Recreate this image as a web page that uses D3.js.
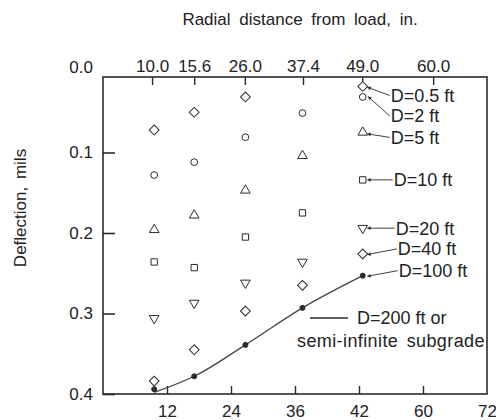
<!DOCTYPE html>
<html>
<head>
<meta charset="utf-8">
<script src="https://cdn.jsdelivr.net/npm/d3@7"></script>
<style>
  body { margin: 0; background: #fff; }
  svg text { font-family: "Liberation Sans", Arial, sans-serif; fill: #222; }
</style>
</head>
<body>
<div id="chart"></div>
<script>
// sensor offsets (in.), and the printed top labels
var sensorX = [9.6, 17.1, 26.7, 37.4, 48.7];
var topTickX = [9.2, 17.1, 26.6, 37.5, 48.6, 61.9];
var topTickLabels = ["10.0", "15.6", "26.0", "37.4", "49.0", "60.0"];
var bottomTickX = [12, 24, 36, 48, 60, 72];
var bottomTickLabels = ["12", "24", "36", "42", "60", "72"];
var yTicks = [0, 0.1, 0.2, 0.3, 0.4];

// deflection (mils) for each depth to bedrock D
var depthLabels = ["D=0.5 ft", "D=2 ft", "D=5 ft", "D=10 ft", "D=20 ft", "D=40 ft", "D=100 ft"];
var defl05 = [0.072, 0.050, 0.031, null, 0.018];
var defl2 = [0.128, 0.112, 0.081, 0.051, 0.031];
var defl5 = [0.196, 0.178, 0.147, 0.104, 0.075];
var defl10 = [0.236, 0.243, 0.205, 0.175, 0.134];
var defl20 = [0.306, 0.287, 0.262, 0.236, 0.194];
var defl40 = [0.384, 0.345, 0.297, 0.265, 0.226];
var defl100 = [0.394, 0.378, 0.339, 0.293, 0.253];
var defl200 = [0.398, 0.378, 0.339, 0.293, 0.253];

var width = 496, height = 420;
var frame = { left: 103, right: 487, top: 77, bottom: 394 };
var ink = "#2b2b2b";

var x = d3.scaleLinear().domain([0, 72]).range([frame.left, frame.right]);
var y = d3.scaleLinear().domain([0, 0.4]).range([72, frame.bottom]);

var svg = d3.select("#chart").append("svg")
  .attr("width", width)
  .attr("height", height);

svg.append("defs").append("marker")
  .attr("id", "arrow")
  .attr("viewBox", "0 0 10 10")
  .attr("refX", 1).attr("refY", 5)
  .attr("markerWidth", 5).attr("markerHeight", 5)
  .attr("orient", "auto")
  .append("path")
  .attr("d", "M1,1 L10,5 L1,9 z")
  .attr("fill", ink);

// frame
svg.append("rect")
  .attr("x", frame.left).attr("y", frame.top)
  .attr("width", frame.right - frame.left)
  .attr("height", frame.bottom - frame.top)
  .attr("fill", "none")
  .attr("stroke", ink)
  .attr("stroke-width", 1.6);

// top axis (sensor locations)
var topAxis = svg.append("g").attr("transform", "translate(0," + frame.top + ")")
  .call(d3.axisBottom(x).tickValues(topTickX).tickSize(8)
    .tickFormat(function(d, i) { return topTickLabels[i]; }));
topAxis.select(".domain").remove();
topAxis.selectAll(".tick line").attr("stroke", ink).attr("stroke-width", 1.4);
topAxis.selectAll(".tick text").attr("y", -5).attr("dy", 0)
  .style("font-size", "17px");

// bottom axis
var bottomAxis = svg.append("g").attr("transform", "translate(0," + frame.bottom + ")")
  .call(d3.axisTop(x).tickValues(bottomTickX).tickSize(8)
    .tickFormat(function(d, i) { return bottomTickLabels[i]; }));
bottomAxis.select(".domain").remove();
bottomAxis.selectAll(".tick line").attr("stroke", ink).attr("stroke-width", 1.4)
  .attr("display", function(d) { return d === 72 ? "none" : null; });
bottomAxis.selectAll(".tick text").attr("y", 23).attr("dy", 0)
  .style("font-size", "17px");

// left axis
var leftAxis = svg.append("g").attr("transform", "translate(" + frame.left + ",0)")
  .call(d3.axisRight(y).tickValues(yTicks).tickSize(12).tickFormat(d3.format(".1f")));
leftAxis.select(".domain").remove();
leftAxis.selectAll(".tick line").attr("stroke", ink).attr("stroke-width", 1.6)
  .attr("display", function(d) { return d === 0 ? "none" : null; });
leftAxis.selectAll(".tick text")
  .attr("x", -10)
  .attr("dy", function(d) { return d === 0 ? "0" : "0.3em"; })
  .attr("text-anchor", "end")
  .style("font-size", "17px");
svg.selectAll(".tick text").attr("fill", "#222");

// axis titles
svg.append("text")
  .attr("x", 300).attr("y", 25)
  .attr("text-anchor", "middle")
  .style("font-size", "17px")
  .style("word-spacing", "4px")
  .text("Radial distance from load, in.");

svg.append("text")
  .attr("transform", "translate(26,208) rotate(-90)")
  .attr("text-anchor", "middle")
  .style("font-size", "17px")
  .style("word-spacing", "3px")
  .text("Deflection, mils");

// D=200 ft curve
var line = d3.line()
  .x(function(d, i) { return x(sensorX[i]); })
  .y(function(d) { return y(d); })
  .curve(d3.curveMonotoneX);

svg.append("path")
  .attr("d", line(defl200))
  .attr("fill", "none")
  .attr("stroke", "#444")
  .attr("stroke-width", 1.3);

// symbols for each series
var seriesList = [
  { vals: defl05, type: d3.symbolSquare, size: 48, rot: 45, fill: "#fff" },
  { vals: defl2, type: d3.symbolCircle, size: 36, rot: 0, fill: "#fff" },
  { vals: defl5, type: d3.symbolTriangle, size: 40, rot: 0, fill: "#fff" },
  { vals: defl10, type: d3.symbolSquare, size: 40, rot: 0, fill: "#fff" },
  { vals: defl20, type: d3.symbolTriangle, size: 40, rot: 180, fill: "#fff" },
  { vals: defl40, type: d3.symbolSquare, size: 48, rot: 45, fill: "#fff" },
  { vals: defl100, type: d3.symbolCircle, size: 20, rot: 0, fill: ink }
];

seriesList.forEach(function(s) {
  var pts = s.vals.map(function(v, i) { return { v: v, i: i }; })
    .filter(function(p) { return p.v !== null; });
  svg.append("g").selectAll("path")
    .data(pts)
    .join("path")
    .attr("d", d3.symbol().type(s.type).size(s.size))
    .attr("transform", function(p) {
      return "translate(" + x(sensorX[p.i]) + "," + y(p.v) + ") rotate(" + s.rot + ")";
    })
    .attr("fill", s.fill)
    .attr("stroke", ink)
    .attr("stroke-width", 1);
});

// labels on the last column, with leaders pointing back at the markers
var labelDx = [28, 28, 28, 31, 33, 35, 36];
var labelDy = [9, 19, 5, 0, 0, -5, -5];
var last = sensorX.length - 1;
seriesList.forEach(function(s, k) {
  var mx = x(sensorX[last]), my = y(s.vals[last]);
  var tx = mx + labelDx[k], ty = my + labelDy[k];
  svg.append("line")
    .attr("x1", tx - 1).attr("y1", ty)
    .attr("x2", mx + 8).attr("y2", my + (labelDy[k] > 0 ? 2 : 0))
    .attr("stroke", ink)
    .attr("stroke-width", 0.9)
    .attr("marker-end", "url(#arrow)");
  svg.append("text")
    .attr("x", tx).attr("y", ty)
    .attr("dy", "0.36em")
    .style("font-size", "18px")
    .text(depthLabels[k]);
});

// legend for the solid curve
svg.append("line")
  .attr("x1", 310).attr("x2", 348)
  .attr("y1", 318).attr("y2", 318)
  .attr("stroke", ink).attr("stroke-width", 1.6);
svg.append("text")
  .attr("x", 357).attr("y", 318).attr("dy", "0.36em")
  .style("font-size", "18px")
  .text("D=200 ft or");
svg.append("text")
  .attr("x", 297).attr("y", 341).attr("dy", "0.36em")
  .style("font-size", "18px")
  .style("letter-spacing", "0.4px")
  .style("word-spacing", "3px")
  .text("semi-infinite subgrade");
</script>
</body>
</html>
